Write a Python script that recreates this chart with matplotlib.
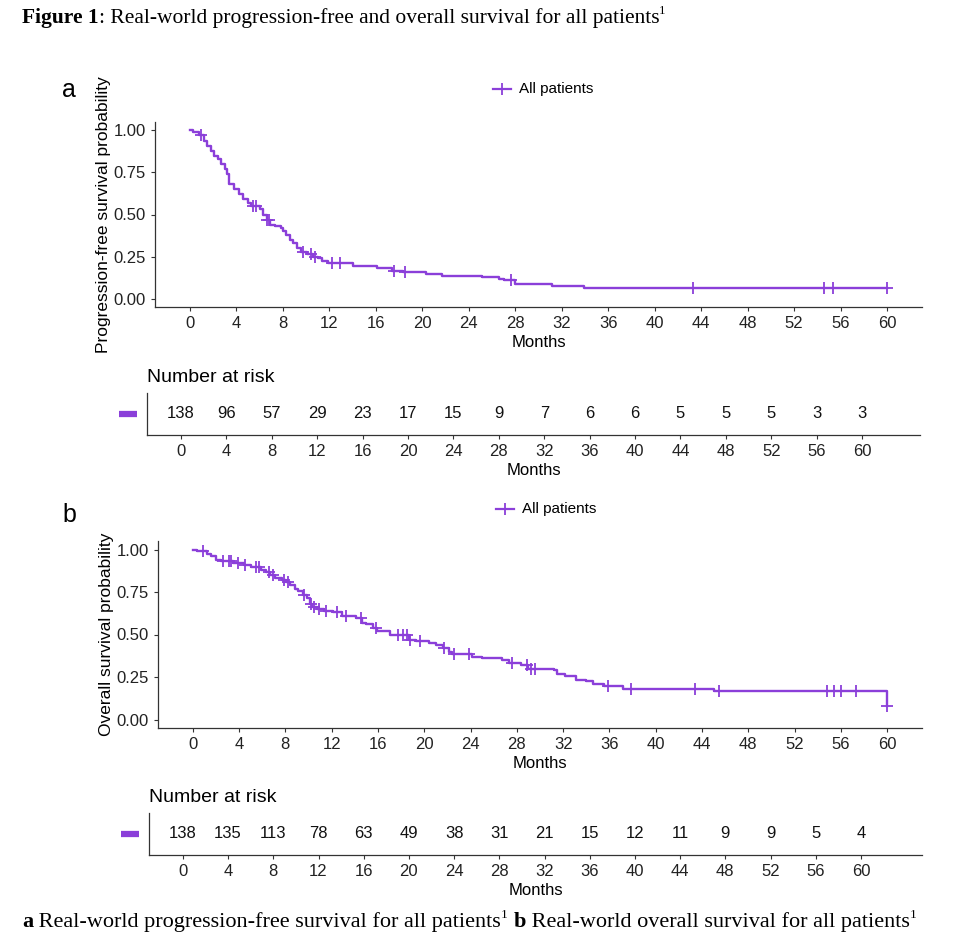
import numpy as np
import matplotlib
matplotlib.use("Agg")
import matplotlib.pyplot as plt
from matplotlib.lines import Line2D

plt.rcParams['font.family'] = ['Liberation Sans', 'DejaVu Sans']

PURPLE = '#8B3FD9'
W, H = 969, 950

# progression-free survival (step changes)
pfs_t = [0, 0.3, 0.8, 1.2, 1.5, 1.8, 2.1, 2.4, 2.7, 3.0, 3.2, 3.4, 3.8, 4.2, 4.6,
         5.0, 5.3, 6.0, 6.3, 6.6, 6.9, 7.3, 7.8, 8.0, 8.3, 8.6, 8.9, 9.2, 9.6,
         10.1, 10.6, 11.0, 11.4, 11.9, 14.0, 16.1, 17.4, 18.3, 20.3, 21.7, 25.1,
         26.6, 27.0, 28.0, 29.1, 31.2, 33.9, 60.0]
pfs_s = [1.00, 0.99, 0.97, 0.94, 0.91, 0.88, 0.85, 0.83, 0.80, 0.77, 0.74, 0.68,
         0.65, 0.62, 0.59, 0.57, 0.55, 0.53, 0.50, 0.47, 0.44, 0.43, 0.42, 0.40,
         0.38, 0.35, 0.33, 0.30, 0.28, 0.265, 0.25, 0.24, 0.225, 0.21, 0.195,
         0.18, 0.167, 0.157, 0.147, 0.137, 0.127, 0.117, 0.108, 0.088, 0.084,
         0.075, 0.063, 0.063]
pfs_cens = [0.95, 5.4, 5.7, 6.6, 6.8, 9.7, 10.4, 10.8, 12.2, 12.9, 17.6, 18.5,
            27.6, 43.3, 54.6, 55.3, 60.0]

# overall survival
os_t = [0, 0.4, 1.2, 1.6, 2.0, 2.4, 3.5, 4.4, 5.0, 5.9, 6.3, 6.7, 7.1, 7.7, 8.1,
        8.4, 8.8, 9.1, 9.5, 9.9, 10.1, 10.3, 10.7, 11.3, 12.1, 12.9, 14.1, 14.6,
        15.0, 15.6, 15.9, 17.0, 18.7, 19.3, 20.4, 21.0, 21.6, 22.1, 22.4, 24.1,
        25.0, 26.7, 27.3, 28.4, 29.0, 31.2, 31.5, 32.2, 33.1, 34.0, 34.6, 35.5,
        37.2, 45.0, 60.0]
os_s = [1.00, 0.99, 0.975, 0.96, 0.94, 0.93, 0.92, 0.91, 0.895, 0.88, 0.865,
        0.85, 0.83, 0.82, 0.81, 0.79, 0.77, 0.755, 0.735, 0.715, 0.68, 0.66, 0.65,
        0.64, 0.63, 0.61, 0.60, 0.57, 0.56, 0.54, 0.52, 0.50, 0.47, 0.46, 0.45,
        0.44, 0.42, 0.40, 0.385, 0.37, 0.36, 0.35, 0.33, 0.32, 0.30, 0.29, 0.265,
        0.255, 0.235, 0.225, 0.21, 0.196, 0.18, 0.167, 0.078]
os_cens = [0.9, 2.6, 3.1, 3.3, 3.9, 4.5, 5.5, 5.7, 6.6, 6.9, 7.9, 8.2, 9.6, 10.2,
           10.5, 10.9, 11.5, 12.5, 13.2, 14.5, 15.8, 17.7, 18.2, 18.5, 18.8, 19.6,
           21.7, 22.6, 23.9, 27.6, 28.9, 29.2, 29.6, 35.9, 37.9, 43.4, 45.5, 54.8,
           55.4, 56.0, 57.3, 60.0]

risk_times = list(range(0, 61, 4))
pfs_risk = [138, 96, 57, 29, 23, 17, 15, 9, 7, 6, 6, 5, 5, 5, 3, 3]
os_risk = [138, 135, 113, 78, 63, 49, 38, 31, 21, 15, 12, 11, 9, 9, 5, 4]

fig = plt.figure(figsize=(W / 100, H / 100), dpi=100)


def px_axes(l, t, r, b):
    return fig.add_axes([l / W, 1 - b / H, (r - l) / W, (b - t) / H])


def style(ax):
    for s in ['top', 'right']:
        ax.spines[s].set_visible(False)
    for s in ['left', 'bottom']:
        ax.spines[s].set_color('#333333')
        ax.spines[s].set_linewidth(0.9)
    ax.tick_params(colors='#333333', labelcolor='#222222', labelsize=12,
                   length=3, width=0.8)
    ax.set_xticks(risk_times)


def km_panel(box, t, s, cens, ylabel):
    ax = px_axes(*box)
    ax.step(t, s, where='post', color=PURPLE, lw=1.7)
    idx = np.searchsorted(t, cens, side='right') - 1
    ax.plot(cens, np.array(s)[idx], '+', color=PURPLE, ms=8, mew=1.3)
    ax.set_xlim(-3, 63)
    ax.set_ylim(-0.05, 1.05)
    ax.set_yticks([0, 0.25, 0.5, 0.75, 1.0])
    ax.set_yticklabels(['0.00', '0.25', '0.50', '0.75', '1.00'])
    style(ax)
    ax.set_xlabel('Months', fontsize=12, labelpad=3)
    ax.set_ylabel(ylabel, fontsize=12.5, labelpad=2)
    return ax


def risk_panel(box, xmax, counts):
    ax = px_axes(*box)
    for x, n in zip(risk_times, counts):
        ax.text(x, 0.5, str(n), ha='center', va='center', fontsize=12, color='#111111')
    ax.set_xlim(-3, xmax)
    ax.set_ylim(0, 1)
    style(ax)
    ax.set_yticks([])
    ax.set_xlabel('Months', fontsize=12, labelpad=3)
    ax.set_title('Number at risk', loc='left', fontsize=14, pad=8, x=0.0)
    ax.plot([-0.036, -0.013], [0.5, 0.5], transform=ax.transAxes, clip_on=False,
            color=PURPLE, lw=4.5, solid_capstyle='butt')
    return ax


def legend(x, y):
    fig.add_artist(Line2D([x / W, (x + 18) / W], [1 - y / H, 1 - y / H],
                          color=PURPLE, lw=1.6, transform=fig.transFigure))
    fig.add_artist(Line2D([(x + 9) / W], [1 - y / H], marker='+', ms=8, mew=1.3,
                          color=PURPLE, transform=fig.transFigure))
    fig.text((x + 26) / W, 1 - y / H, 'All patients', fontsize=11, va='center')


km_panel((155, 122, 922, 307), pfs_t, pfs_s, pfs_cens,
         'Progression-free survival probability')
risk_panel((147, 393, 920, 435), 65.1, pfs_risk)
km_panel((158, 541, 922, 728), os_t, os_s, os_cens, 'Overall survival probability')
risk_panel((149, 813, 922, 855), 65.4, os_risk)

legend(493, 89)
legend(496, 509)
fig.text(62 / W, 1 - 90 / H, 'a', fontsize=18, va='center')
fig.text(62 / W, 1 - 515 / H, 'b', fontsize=18, va='center')

# title and caption with mixed weights; ('1', 'sup') is a superscript
renderer = fig.canvas.get_renderer()


def rich_line(x, y, parts, size):
    for txt, weight in parts:
        sz, dy = size, 0
        if weight == 'sup':
            sz, dy, weight = size * 0.6, size * 0.55, 'normal'
        t = fig.text(x / W, 1 - (y - dy) / H, txt, fontsize=sz, fontweight=weight,
                     family='Liberation Serif', va='baseline')
        x += t.get_window_extent(renderer).width


rich_line(22, 23, [('Figure 1', 'bold'),
                   (': Real-world progression-free and overall survival for all patients', 'normal'),
                   ('1', 'sup')], 15.5)
rich_line(22, 927, [('a', 'bold'),
                    (' Real-world progression-free survival for all patients', 'normal'),
                    ('1', 'sup'), (' ', 'normal'),
                    ('b', 'bold'),
                    (' Real-world overall survival for all patients', 'normal'),
                    ('1', 'sup')], 16)

fig.savefig('out.png', dpi=100)
